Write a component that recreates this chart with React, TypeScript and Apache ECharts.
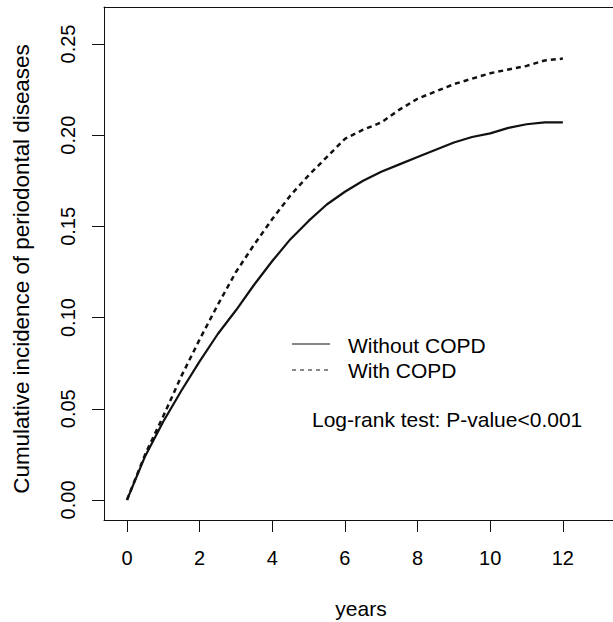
import React, { useEffect, useRef } from "react";
import * as echarts from "echarts";

const years = [0, 0.5, 1, 1.5, 2, 2.5, 3, 3.5, 4, 4.5, 5, 5.5, 6, 6.5, 7, 7.5, 8, 8.5, 9, 9.5, 10, 10.5, 11, 11.5, 12];
const withoutCOPD = [0, 0.024, 0.043, 0.06, 0.076, 0.091, 0.104, 0.118, 0.131, 0.143, 0.153, 0.162, 0.169, 0.175, 0.18, 0.184, 0.188, 0.192, 0.196, 0.199, 0.201, 0.204, 0.206, 0.207, 0.207];
const withCOPD = [0, 0.025, 0.046, 0.068, 0.088, 0.107, 0.125, 0.14, 0.154, 0.167, 0.178, 0.188, 0.198, 0.203, 0.207, 0.214, 0.22, 0.224, 0.228, 0.231, 0.234, 0.236, 0.238, 0.241, 0.242];
const xTicks = [0, 2, 4, 6, 8, 10, 12];
const yTicks = [0, 0.05, 0.1, 0.15, 0.2, 0.25];
const seriesNames = ["Without COPD", "With COPD"];
const yTitle = "Cumulative incidence of periodontal diseases";
const xTitle = "years";
const note = "Log-rank test: P-value<0.001";

const FONT = "Liberation Sans, Arial, Helvetica, sans-serif";
const INK = "#111";

export default function App() {
  const ref = useRef<HTMLDivElement>(null);
  useEffect(() => {
    if (!ref.current) return;
    const chart = echarts.init(ref.current, undefined, { renderer: "svg" });
    const xMin = -0.633;
    const xMax = 13.38;
    const yMin = -0.011;
    const yMax = 0.2703;
    chart.setOption({
      animation: false,
      backgroundColor: "#fff",
      textStyle: { fontFamily: FONT },
      grid: { left: 104, top: 7, right: 0, bottom: 102, containLabel: false },
      xAxis: [
        {
          type: "value",
          position: "bottom",
          min: xMin,
          max: xMax,
          axisLine: { show: true, onZero: false, lineStyle: { color: INK, width: 1 } },
          axisTick: { show: true, length: 12, customValues: xTicks, lineStyle: { color: INK } },
          axisLabel: { show: true, customValues: xTicks, fontSize: 20, color: "#000", margin: 28, fontFamily: FONT },
          splitLine: { show: false },
        },
        {
          type: "value",
          position: "top",
          min: xMin,
          max: xMax,
          axisLine: { show: true, onZero: false, lineStyle: { color: INK, width: 1 } },
          axisTick: { show: false },
          axisLabel: { show: false },
          splitLine: { show: false },
        },
      ],
      yAxis: {
        type: "value",
        min: yMin,
        max: yMax,
        axisLine: { show: true, onZero: false, lineStyle: { color: INK, width: 1 } },
        axisTick: { show: true, length: 12, customValues: yTicks, lineStyle: { color: INK } },
        axisLabel: {
          show: true,
          customValues: yTicks,
          rotate: 90,
          fontSize: 20,
          color: "#000",
          margin: 26,
          fontFamily: FONT,
          formatter: (v: number) => v.toFixed(2),
        },
        splitLine: { show: false },
      },
      series: [
        {
          name: seriesNames[0],
          type: "line",
          xAxisIndex: 0,
          data: years.map((t, i) => [t, withoutCOPD[i]]),
          showSymbol: false,
          lineStyle: { color: INK, width: 2.2, type: "solid" },
        },
        {
          name: seriesNames[1],
          type: "line",
          xAxisIndex: 0,
          data: years.map((t, i) => [t, withCOPD[i]]),
          showSymbol: false,
          lineStyle: { color: INK, width: 2.5, type: [5, 4] },
        },
      ],
      graphic: [
        {
          type: "text",
          x: 21,
          y: 269,
          rotation: Math.PI / 2,
          style: { text: yTitle, font: `22.4px ${FONT}`, fill: "#000", align: "center", verticalAlign: "middle" },
        },
        {
          type: "text",
          x: 361,
          y: 608,
          style: { text: xTitle, font: `21px ${FONT}`, fill: "#000", align: "center", verticalAlign: "middle" },
        },
        {
          type: "line",
          shape: { x1: 292, y1: 344, x2: 330, y2: 344 },
          style: { stroke: INK, lineWidth: 1.2 },
        },
        {
          type: "line",
          shape: { x1: 292, y1: 370, x2: 330, y2: 370 },
          style: { stroke: INK, lineWidth: 1.2, lineDash: [4, 4] },
        },
        {
          type: "text",
          x: 348,
          y: 345,
          style: { text: seriesNames[0], font: `21px ${FONT}`, fill: "#000", align: "left", verticalAlign: "middle" },
        },
        {
          type: "text",
          x: 348,
          y: 370,
          style: { text: seriesNames[1], font: `21px ${FONT}`, fill: "#000", align: "left", verticalAlign: "middle" },
        },
        {
          type: "text",
          x: 312,
          y: 419,
          style: { text: note, font: `21px ${FONT}`, fill: "#000", align: "left", verticalAlign: "middle" },
        },
      ],
    });
    return () => chart.dispose();
  }, []);
  return (
    <div
      ref={ref}
      style={{ position: "fixed", left: 0, top: 0, width: 613, height: 622, background: "#fff" }}
    />
  );
}
